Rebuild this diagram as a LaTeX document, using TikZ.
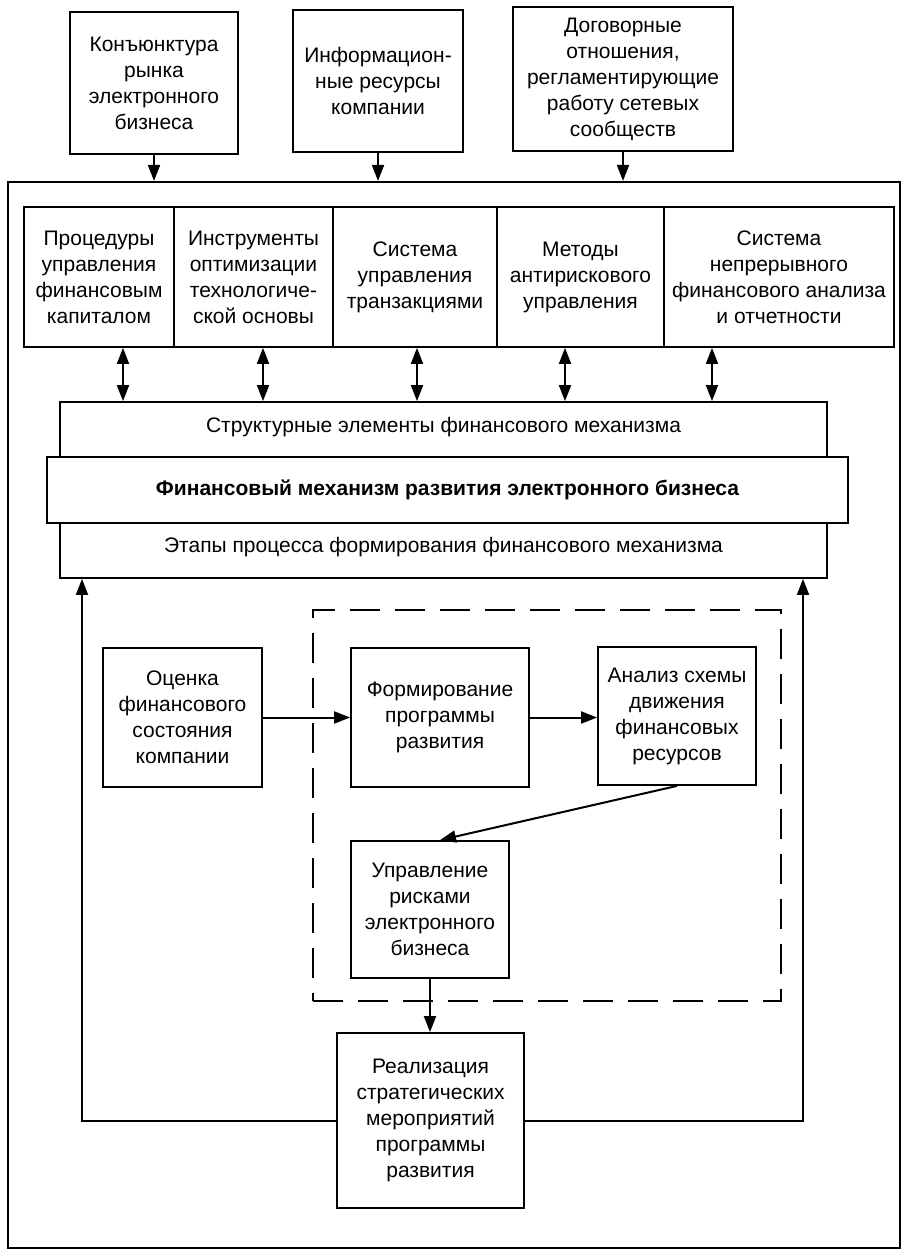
\documentclass[tikz,border=0pt]{standalone}
\usepackage{fontspec}
\setmainfont{Liberation Sans}
\usetikzlibrary{arrows.meta,calc}
\begin{document}
\begin{tikzpicture}[x=1pt,y=-1pt,
 box/.style={draw,line width=1.8pt,align=center,inner sep=0pt,font=\fontsize{21}{26}\selectfont},
 arr/.style={line width=2pt,-{Triangle[length=16pt,width=12pt]}},
 dbl/.style={line width=2pt,{Triangle[length=16pt,width=12pt]}-{Triangle[length=16pt,width=12pt]}},
 txt/.style={font=\fontsize{21}{26}\selectfont,inner sep=0pt}]
\useasboundingbox (0,0) rectangle (901,1251);
\fill[white] (0,0) rectangle (901,1251);
% top boxes
\node[box,minimum width=168pt,minimum height=142pt] (k1) at (154,83) {Конъюнктура\\рынка\\электронного\\бизнеса};
\node[box,minimum width=170pt,minimum height=142pt] (k2) at (378,81) {Информацион-\\ные ресурсы\\компании};
\node[box,minimum width=220pt,minimum height=144pt] (k3) at (623,79) {Договорные\\отношения,\\регламентирующие\\работу сетевых\\сообществ};
% outer frame
\node[draw,line width=2.2pt,minimum width=892pt,minimum height=1066pt,inner sep=0pt] (frame) at (454,715) {};
\draw[arr] (k1.south) -- (k1.south |- frame.north);
\draw[arr] (k2.south) -- (k2.south |- frame.north);
\draw[arr] (k3.south) -- (k3.south |- frame.north);
% row of five
\node[box,minimum width=150pt,minimum height=140pt] (p1) at (99,277) {Процедуры\\управления\\финансовым\\капиталом};
\node[box,minimum width=159pt,minimum height=140pt] (p2) at (253.5,277) {Инструменты\\оптимизации\\технологиче-\\ской основы};
\node[box,minimum width=164pt,minimum height=140pt] (p3) at (415,277) {Система\\управления\\транзакциями};
\node[box,minimum width=167pt,minimum height=140pt] (p4) at (580.5,277) {Методы\\антирискового\\управления};
\node[box,minimum width=230pt,minimum height=140pt] (p5) at (779,277) {Система\\непрерывного\\финансового анализа\\и отчетности};
% structural block
\node[box,minimum width=767pt,minimum height=176pt] (sm) at (443.5,490) {};
\node[box,fill=white,minimum width=801pt,minimum height=66pt,font=\fontsize{21}{26}\selectfont\bfseries] (band) at (447.5,490) {Финансовый механизм развития электронного бизнеса};
\node[txt] (se) at (443.5,427) {Структурные элементы финансового механизма};
\node[txt] (et) at (443.5,547) {Этапы процесса формирования финансового механизма};
\draw[dbl] ([xshift=24pt]p1.south) -- ([xshift=-320.5pt]sm.north);
\draw[dbl] ([xshift=9.5pt]p2.south) -- ([xshift=-180.5pt]sm.north);
\draw[dbl] ([xshift=2pt]p3.south) -- ([xshift=-26.5pt]sm.north);
\draw[dbl] ([xshift=-15.5pt]p4.south) -- ([xshift=121.5pt]sm.north);
\draw[dbl] ([xshift=-67pt]p5.south) -- ([xshift=268.5pt]sm.north);
% dashed region
\node[draw,dash pattern=on 30pt off 15pt,line width=2pt,minimum width=468pt,minimum height=391pt,inner sep=0pt] (dash) at (547,805.5) {};
% process boxes
\node[box,minimum width=159pt,minimum height=139pt] (oc) at (182.5,717.5) {Оценка\\финансового\\состояния\\компании};
\node[box,minimum width=178pt,minimum height=139pt] (fo) at (440,717.5) {Формирование\\программы\\развития};
\node[box,minimum width=158pt,minimum height=138pt] (an) at (677,716) {Анализ схемы\\движения\\финансовых\\ресурсов};
\node[box,minimum width=158pt,minimum height=137pt] (up) at (430,909.5) {Управление\\рисками\\электронного\\бизнеса};
\node[box,minimum width=187pt,minimum height=175pt] (re) at (430.5,1120.5) {Реализация\\стратегических\\мероприятий\\программы\\развития};
\draw[arr] (oc.east) -- (fo.west);
\draw[arr] (fo.east) -- (fo.east -| an.west);
\draw[arr] (an.south) -- ([xshift=10pt]up.north);
\draw[arr] (up.south) -- (up.south |- re.north);
\draw[arr] (re.west) -| ([xshift=-361.5pt]sm.south);
\draw[arr] (re.east) -| ([xshift=359.5pt]sm.south);
\end{tikzpicture}
\end{document}
